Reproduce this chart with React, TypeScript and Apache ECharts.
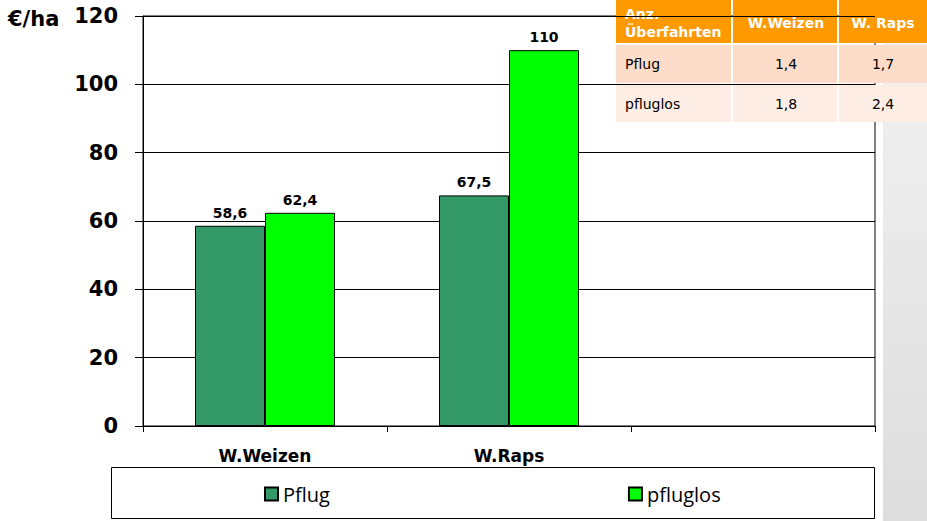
import React, { useEffect, useRef } from "react";
import * as echarts from "echarts";

const categories = ["W.Weizen", "W.Raps", ""];
const seriesNames = ["Pflug", "pfluglos"];
const pflug: (number | null)[] = [58.6, 67.5, null];
const pfluglos: (number | null)[] = [62.4, 110, null];
const seriesColors = ["#339966", "#00FF00"];
const yUnit = "€/ha";

const tableHeader = ["Anz.\nÜberfahrten", "W.Weizen", "W. Raps"];
const tableRows = [
  ["Pflug", "1,4", "1,7"],
  ["pfluglos", "1,8", "2,4"],
];

const fmt = (v: any) => (v == null ? "" : String(v).replace(".", ","));

export default function App() {
  const ref = useRef<HTMLDivElement>(null);
  useEffect(() => {
    if (!ref.current) return;
    const chart = echarts.init(ref.current, null, { renderer: "svg" });

    const colX = [616, 733, 839, 927];
    const rowY = [0, 45, 85, 122];
    const headerH = 43;
    const tableEls: any[] = [];
    for (let c = 0; c < 3; c++) {
      tableEls.push({
        type: "rect",
        shape: { x: colX[c], y: 0, width: colX[c + 1] - colX[c] - (c < 2 ? 2 : 0), height: headerH },
        style: { fill: "#FF9900" },
      });
      tableEls.push({
        type: "text",
        x: c === 0 ? colX[c] + 9 : (colX[c] + colX[c + 1]) / 2,
        y: headerH / 2 + 1,
        style: {
          text: tableHeader[c],
          fill: "#ffffff",
          font: "bold 14px 'DejaVu Sans'",
          align: c === 0 ? "left" : "center",
          verticalAlign: "middle",
          lineHeight: 18,
        },
      });
    }
    tableRows.forEach((row, r) => {
      const y0 = rowY[r + 1];
      const h = rowY[r + 2] - y0 - (r === 0 ? 2 : 0);
      for (let c = 0; c < 3; c++) {
        tableEls.push({
          type: "rect",
          shape: { x: colX[c], y: y0, width: colX[c + 1] - colX[c] - (c < 2 ? 2 : 0), height: h },
          style: { fill: r === 0 ? "#FDDCC9" : "#FEEDE5" },
        });
        tableEls.push({
          type: "text",
          x: c === 0 ? colX[c] + 9 : (colX[c] + colX[c + 1]) / 2,
          y: y0 + h / 2,
          style: {
            text: row[c],
            fill: "#000000",
            font: "14px 'DejaVu Sans'",
            align: c === 0 ? "left" : "center",
            verticalAlign: "middle",
          },
        });
      }
    });

    const barLabel = {
      show: true,
      position: "top",
      distance: 6,
      formatter: (p: any) => fmt(p.value),
      color: "#000",
      fontFamily: "DejaVu Sans",
      fontWeight: "bold",
      fontSize: 14,
    };

    chart.setOption({
      animation: false,
      backgroundColor: "#ffffff",
      grid: {
        left: 143,
        top: 16,
        right: 52,
        bottom: 95,
        show: true,
        borderColor: "#000000",
        borderWidth: 1,
        backgroundColor: "transparent",
      },
      legend: {
        left: 259,
        top: 479,
        itemWidth: 13,
        itemHeight: 13,
        itemGap: 298,
        icon: "rect",
        data: seriesNames,
        textStyle: { fontFamily: "Open Sans", fontSize: 20, color: "#000" },
      },
      xAxis: {
        type: "category",
        data: categories,
        axisLine: { lineStyle: { color: "#000", width: 1 } },
        axisTick: { show: true, length: 6, lineStyle: { color: "#000" } },
        axisLabel: {
          color: "#000",
          fontFamily: "DejaVu Sans",
          fontWeight: "bold",
          fontSize: 17,
          margin: 21,
        },
      },
      yAxis: {
        type: "value",
        min: 0,
        max: 120,
        interval: 20,
        axisLine: { show: true, lineStyle: { color: "#000", width: 1 } },
        axisTick: { show: true, length: 8, lineStyle: { color: "#000" } },
        splitLine: { show: true, lineStyle: { color: "#000", width: 1 } },
        axisLabel: {
          color: "#000",
          fontFamily: "DejaVu Sans",
          fontWeight: "bold",
          fontSize: 21,
          margin: 25,
        },
      },
      series: [
        {
          name: seriesNames[0],
          type: "bar",
          data: pflug,
          barWidth: 70,
          barGap: "0%",
          itemStyle: { color: seriesColors[0], borderColor: "#000", borderWidth: 1 },
          label: barLabel,
        },
        {
          name: seriesNames[1],
          type: "bar",
          data: pfluglos,
          barWidth: 70,
          barGap: "0%",
          itemStyle: { color: seriesColors[1], borderColor: "#000", borderWidth: 1 },
          label: barLabel,
        },
      ],
      graphic: [
        {
          type: "rect",
          z: -10,
          shape: { x: 883, y: 0, width: 44, height: 521 },
          style: {
            fill: new echarts.graphic.LinearGradient(0, 0, 0, 1, [
              { offset: 0, color: "#f3f3f3" },
              { offset: 1, color: "#dddddd" },
            ]),
          },
        },
        {
          type: "rect",
          z: -5,
          shape: { x: 111.5, y: 467.5, width: 763, height: 51 },
          style: { fill: "#ffffff", stroke: "#000", lineWidth: 1 },
        },
        {
          type: "text",
          x: 8,
          y: 19,
          style: {
            text: yUnit,
            fill: "#000",
            font: "bold 21px 'DejaVu Sans'",
            verticalAlign: "middle",
          },
        },
        { type: "group", z: 100, children: tableEls },
      ],
    });
    return () => chart.dispose();
  }, []);
  return (
    <div
      ref={ref}
      style={{ position: "fixed", left: 0, top: 0, width: 927, height: 521 }}
    />
  );
}
